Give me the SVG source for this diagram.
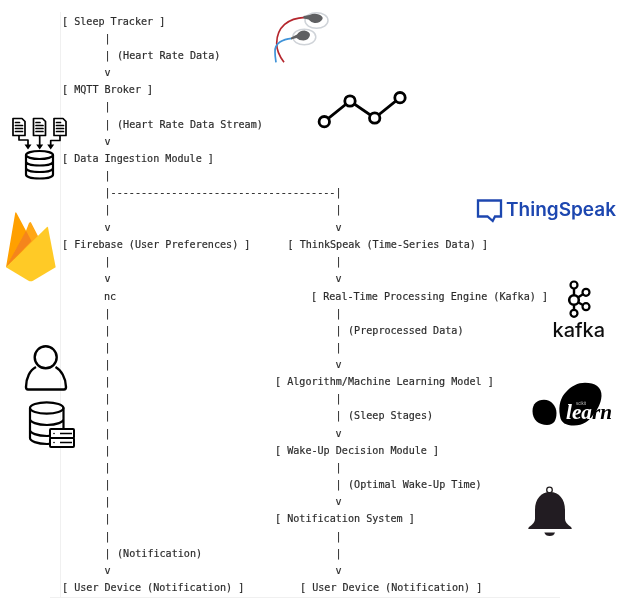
<svg xmlns="http://www.w3.org/2000/svg" width="627" height="606" viewBox="0 0 627 606">
<defs>
<filter id="soft" x="-5%" y="-5%" width="110%" height="110%"><feGaussianBlur stdDeviation="0.35"/></filter>
</defs>
<style>
text{font-family:"DejaVu Sans Mono","Liberation Mono",monospace;font-size:10.1px;fill:#2b2b2b;stroke:#2b2b2b;stroke-width:0.18px;white-space:pre}
.k{stroke:#000;fill:none;stroke-width:2.2;stroke-linejoin:round;stroke-linecap:round}
.d{stroke:#000;fill:none;stroke-width:1.7;stroke-linejoin:round;stroke-linecap:round}
.w{stroke:#000;fill:#fff;stroke-width:2;stroke-linejoin:round}
.n{fill:#fff;stroke:#000;stroke-width:2.200}
.logo{stroke:none}
</style>
<rect width="627" height="606" fill="#fff"/>
<g filter="url(#soft)">
<path d="M60.500 12V597M50 597.500H560" stroke="#f0f0f0" stroke-width="1" fill="none"/>

<g id="connectors">
<text x="104.500" y="41.500">|</text>
<text x="104.500" y="58.500">|</text>
<text x="104.500" y="75.500">v</text>
<text x="104.500" y="110">|</text>
<text x="104.500" y="127.500">|</text>
<text x="104.500" y="144.500">v</text>
<text x="104.500" y="178.500">|</text>
<text x="104.500" y="196">|-------------------------------------|</text>
<text x="104.500" y="213">|</text><text x="335.500" y="213">|</text>
<text x="104.500" y="230.500">v</text><text x="335.500" y="230.500">v</text>
<text x="104.500" y="264.500">|</text><text x="335.500" y="264.500">|</text>
<text x="104.500" y="282">v</text><text x="335.500" y="282">v</text>
<text x="104.500" y="316.500">|</text><text x="335.500" y="316.500">|</text>
<text x="104.500" y="333.500">|</text><text x="335.500" y="333.500">|</text>
<text x="104.500" y="350.500">|</text><text x="335.500" y="350.500">|</text>
<text x="104.500" y="367.500">|</text><text x="335.500" y="367.500">v</text>
<text x="104.500" y="385">|</text>
<text x="104.500" y="402">|</text><text x="335.500" y="402">|</text>
<text x="104.500" y="419">|</text><text x="335.500" y="419">|</text>
<text x="104.500" y="436.500">|</text><text x="335.500" y="436.500">v</text>
<text x="104.500" y="453.500">|</text>
<text x="104.500" y="470.500">|</text><text x="335.500" y="470.500">|</text>
<text x="104.500" y="488">|</text><text x="335.500" y="488">|</text>
<text x="104.500" y="505">|</text><text x="335.500" y="505">v</text>
<text x="104.500" y="522">|</text>
<text x="104.500" y="539.500">|</text><text x="335.500" y="539.500">|</text>
<text x="104.500" y="556.500">|</text><text x="335.500" y="556.500">|</text>
<text x="104.500" y="573.500">v</text><text x="335.500" y="573.500">v</text>
<text x="104" y="299.500">nc</text>
</g>

<g id="edge-labels">
<text x="117" y="58.500">(Heart Rate Data)</text>
<text x="117" y="127.500">(Heart Rate Data Stream)</text>
<text x="348" y="333.500">(Preprocessed Data)</text>
<text x="348" y="419">(Sleep Stages)</text>
<text x="348" y="488">(Optimal Wake-Up Time)</text>
<text x="117" y="556.500">(Notification)</text>
</g>

<g id="node-sleep-tracker"><text x="62" y="24.500">[ Sleep Tracker ]</text></g>
<g id="node-mqtt-broker"><text x="62" y="93">[ MQTT Broker ]</text></g>
<g id="node-data-ingestion"><text x="62" y="161.500">[ Data Ingestion Module ]</text></g>
<g id="node-firebase"><text x="62" y="247.500">[ Firebase (User Preferences) ]</text></g>
<g id="node-thingspeak"><text x="287.500" y="247.500">[ ThinkSpeak (Time-Series Data) ]</text></g>
<g id="node-realtime"><text x="311" y="299.500">[ Real-Time Processing Engine (Kafka) ]</text></g>
<g id="node-model"><text x="275" y="385">[ Algorithm/Machine Learning Model ]</text></g>
<g id="node-wakeup"><text x="275" y="453.500">[ Wake-Up Decision Module ]</text></g>
<g id="node-notification"><text x="275" y="522">[ Notification System ]</text></g>
<g id="node-device-left"><text x="62" y="591">[ User Device (Notification) ]</text></g>
<g id="node-device-right"><text x="300" y="591">[ User Device (Notification) ]</text></g>

<g id="icon-sensor">
<path d="M305 17.300C288 18 277 27 276.700 43C276.500 50 280 57 284 62.300" fill="none" stroke="#b5282e" stroke-width="1.700"/>
<path d="M291.700 38.300C283 39 274.500 43 275 52C275 56 275.500 59 276 62.300" fill="none" stroke="#3f93d8" stroke-width="1.700"/>
<ellipse cx="316.500" cy="20.500" rx="11.500" ry="7.800" fill="#fff" stroke="#cfd3d8" stroke-width="1.500"/>
<ellipse cx="304.300" cy="37" rx="11.500" ry="7.800" fill="#fff" stroke="#cfd3d8" stroke-width="1.500"/>
<path d="M303.500 16L309.500 15Q314 13 319 14.500Q323.500 16.500 322.500 19Q320 23.500 314.500 23Q310.500 22 308.500 19.500L303.500 18.500Z" fill="#5f6062"/>
<path d="M291 37.500L297 34.500Q299.500 30.500 304.500 30.500Q310 31.500 310 35Q309 40 303.500 40.500Q299 40.500 296.500 38L291 39.500Z" fill="#5f6062"/>
</g>

<g id="icon-linechart">
<path d="M324.300 121.700L350 101L374.700 118L400 97.700" fill="none" stroke="#000" stroke-width="2.800"/>
<circle cx="324.300" cy="121.700" r="5.200" fill="#fff" stroke="#000" stroke-width="2.800"/>
<circle cx="350" cy="101" r="5.200" fill="#fff" stroke="#000" stroke-width="2.800"/>
<circle cx="374.700" cy="118" r="5.200" fill="#fff" stroke="#000" stroke-width="2.800"/>
<circle cx="400" cy="97.700" r="5.200" fill="#fff" stroke="#000" stroke-width="2.800"/>
</g>

<g id="icon-ingestion">
<path class="d" d="M13 118.500H22L25 121.500V135.500H13ZM15.500 122.500H19.500M15.500 125.500H22.500M15.500 128.500H22.500M15.500 131.500H22.500"/>
<path class="d" d="M33.500 118.500H42.500L45.500 121.500V135.500H33.500ZM36 122.500H40M36 125.500H43M36 128.500H43M36 131.500H43"/>
<path class="d" d="M54 118.500H63L66 121.500V135.500H54ZM56.500 122.500H60.500M56.500 125.500H63.500M56.500 128.500H63.500M56.500 131.500H63.500"/>
<path class="d" d="M19 136V140H28V146M39.700 136V146M60 136V140.500H50.700V146"/>
<path d="M24.500 144.500L28 149.500L31.500 144.500ZM36.200 144.500L39.700 149.500L43.200 144.500ZM47.200 144.500L50.700 149.500L54.200 144.500Z" fill="#000"/>
<path class="k" d="M26 155V174.500C26 177 32 178.500 39.700 178.500C47 178.500 53 177 53 174.500V155M26 161.500C26 164 32 165.500 39.700 165.500C47 165.500 53 164 53 161.500M26 168C26 170.500 32 172 39.700 172C47 172 53 170.500 53 168"/>
<ellipse class="k" cx="39.500" cy="155" rx="13.500" ry="4"/>
</g>

<g id="icon-firebase">
<path d="M6 267.300L15.200 213Q15.700 211.500 16.500 213L26 230.700L33 245Z" fill="#ffa000"/>
<path d="M30 222.300Q30.500 221.800 31 222.500L38.500 237L22 262L26 230.700L29 223Z" fill="#ffa712"/>
<path d="M6 267.300L26 230.700L31.500 241Z" fill="#f5851c"/>
<path d="M6 267.300L47 227Q47.700 226.500 48 227.500L55.700 267.300L33 280.700Q30.700 282 28.500 280.700Z" fill="#ffca28"/>
</g>

<g id="logo-thingspeak">
<path d="M478 200.500H501V216.500H495L492.700 221L487.500 216.500H478Z" fill="none" stroke="#1f47b0" stroke-width="2.300"/>
<text class="logo" x="506" y="216" textLength="110" lengthAdjust="spacingAndGlyphs" style="font-family:Inter,'Liberation Sans',sans-serif;font-size:18.500px;font-weight:600;fill:#1f47b0">ThingSpeak</text>
</g>

<g id="logo-kafka">
<path d="M574 285V313.300M574 300L586 292.300M574 300L586 306.700" stroke="#000" stroke-width="2.400" fill="none"/>
<circle class="n" cx="574" cy="285" r="3.500"/>
<circle class="n" cx="586" cy="292.300" r="3.500"/>
<circle class="n" cx="574" cy="300" r="4.800" style="stroke-width:2.600"/>
<circle class="n" cx="586" cy="306.700" r="3.500"/>
<circle class="n" cx="574" cy="313.300" r="3.500"/>
<text class="logo" x="552.500" y="337.300" textLength="52.500" lengthAdjust="spacingAndGlyphs" style="font-family:Inter,Lato,sans-serif;font-size:20px;font-weight:500;fill:#111">kafka</text>
</g>

<g id="logo-sklearn">
<path d="M544 399.800C551 399.800 556.500 406 556.500 413C556.500 420 554 425 547 425C539 425 532.500 420 532.500 411C532.500 404 537 399.800 544 399.800Z" fill="#000"/>
<path d="M585 382.700C595 382.700 602 387 601.500 396C601 404 597 410 593 415C589 421 583 425.500 574 425.500C566 425.500 561 423 560 416C558 405 561 397 566 392C571 386 578 382.700 585 382.700Z" fill="#000"/>
<text class="logo" x="576" y="404.500" style="font-family:'Liberation Sans',Arial,sans-serif;font-size:4.500px;fill:#bbb">scikit</text>
<text class="logo" x="566" y="418.500" textLength="46" lengthAdjust="spacingAndGlyphs" style="font-family:'Liberation Serif',serif;font-style:italic;font-weight:700;font-size:20px;fill:#fff">lea<tspan style="fill:#000">rn</tspan></text>
</g>

<g id="icon-bell">
<circle cx="549.500" cy="490" r="2.800" fill="none" stroke="#231f20" stroke-width="1.300"/>
<path d="M550 492C541 492 535 499 535 510V519Q535 523 529 527Q527.500 529 529 529H571Q572.500 529 571 527Q565 523 565 519V510C565 499 559 492 550 492Z" fill="#231f20"/>
<path d="M544.300 532.500H555Q554 536 549.700 536Q545.500 536 544.300 532.500Z" fill="#231f20"/>
</g>

<g id="icon-user">
<circle cx="45.700" cy="357.300" r="11" fill="none" stroke="#000" stroke-width="2.400"/>
<path d="M36 367C30 370 26 378 26 387Q26 389.500 28 389.500H64Q66 389.500 66 387C66 378 61 370 55.500 367" fill="none" stroke="#000" stroke-width="2.400"/>
</g>

<g id="icon-database">
<path class="k" d="M30 408V438C30 441 37 444 47 444C57 444 63.500 441 63.500 438V408M30 419C30 422 37 425 47 425C57 425 63.500 422 63.500 419M30 430C30 433 37 436 47 436C57 436 63.500 433 63.500 430"/>
<ellipse class="k" cx="46.700" cy="408" rx="16.700" ry="5.700"/>
<rect class="w" x="50" y="429" width="24" height="9" rx="1"/>
<rect class="w" x="50" y="438" width="24" height="9" rx="1"/>
<path d="M60 433.500H72M60 442.500H72" stroke="#000" stroke-width="1.300"/>
<circle cx="54" cy="433.500" r="0.800" fill="#000"/><circle cx="54" cy="442.500" r="0.800" fill="#000"/>
</g>
</g>
</svg>
